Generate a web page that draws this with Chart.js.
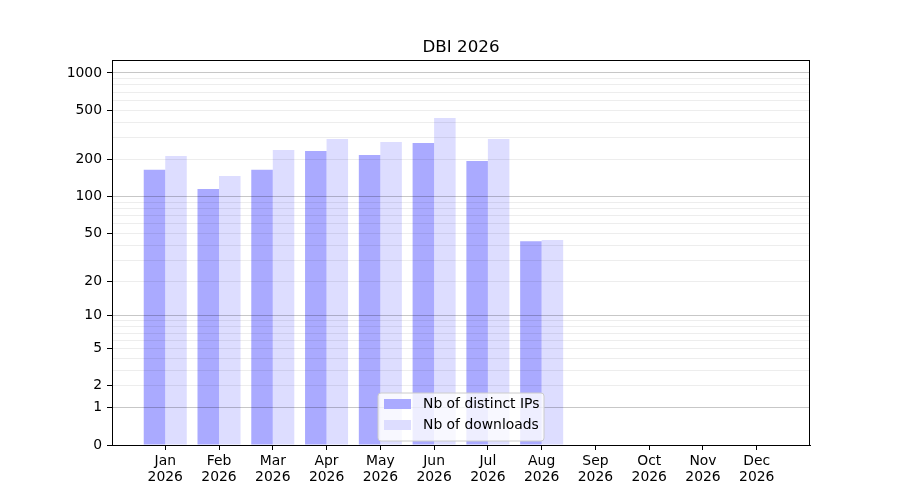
<!DOCTYPE html>
<html lang="en">
<head>
    <meta charset="UTF-8">
    <title>DBI 2026</title>
    <script src="https://cdn.jsdelivr.net/npm/chart.js"></script>
    <style>
        html, body { margin: 0; padding: 0; background: white; }
        .chart-box { width: 900px; height: 500px; position: relative; }
    </style>
</head>
<body>
    <div class="chart-box">
        <canvas id="dbiChart"></canvas>
    </div>

    <script>
        // Monthly stats
        const months = ['Jan', 'Feb', 'Mar', 'Apr', 'May', 'Jun', 'Jul', 'Aug', 'Sep', 'Oct', 'Nov', 'Dec'];
        const year = '2026';
        const distinctIps = [165, 115, 165, 234, 217, 271, 194, 43, 0, 0, 0, 0];
        const downloads = [213, 147, 238, 293, 277, 433, 293, 44, 0, 0, 0, 0];
        const yLabels = [0, 1, 2, 5, 10, 20, 50, 100, 200, 500, 1000];
        const yMajor = [1, 10, 100, 1000];
        const yMaxValue = 1272;

        // y axis is log10(1 + v)
        const tf = v => Math.log10(1 + v);
        const untf = t => Math.round(Math.pow(10, t) - 1);

        // every gridline value: 1..9, 10..90, 100..900, 1000
        const yGrid = [0];
        [1, 10, 100].forEach(d => { for (let k = 1; k < 10; k++) yGrid.push(k * d); });
        yGrid.push(1000);

        const toPoints = arr => arr.map((v, i) => ({ x: i, y: tf(v) }));

        Chart.defaults.font.family = "'DejaVu Sans', sans-serif";
        Chart.defaults.font.size = 13.9;
        Chart.defaults.color = '#000';

        // matplotlib-ish title, frame and legend drawn on the canvas
        const decorations = {
            id: 'decorations',
            afterDraw(chart) {
                const c = chart.ctx;
                const a = chart.chartArea;
                c.save();

                // frame
                c.strokeStyle = '#000';
                c.lineWidth = 1;
                c.strokeRect(Math.round(a.left) + 0.5, Math.round(a.top) + 0.5,
                             Math.round(a.right - a.left) - 1, Math.round(a.bottom - a.top));

                // title
                c.fillStyle = '#000';
                c.font = "16.7px 'DejaVu Sans', sans-serif";
                c.textAlign = 'center';
                c.textBaseline = 'alphabetic';
                c.fillText('DBI 2026', (a.left + a.right) / 2, 52);

                // legend
                const lx = 378, ly = 393, lw = 166, lh = 48, r = 3;
                c.beginPath();
                c.moveTo(lx + r, ly);
                c.arcTo(lx + lw, ly, lx + lw, ly + lh, r);
                c.arcTo(lx + lw, ly + lh, lx, ly + lh, r);
                c.arcTo(lx, ly + lh, lx, ly, r);
                c.arcTo(lx, ly, lx + lw, ly, r);
                c.closePath();
                c.fillStyle = 'rgba(255,255,255,0.8)';
                c.fill();
                c.strokeStyle = '#cccccc';
                c.stroke();

                const items = chart.data.datasets;
                c.font = "13.9px 'DejaVu Sans', sans-serif";
                c.textAlign = 'left';
                c.textBaseline = 'middle';
                items.forEach((ds, i) => {
                    const y = ly + 6 + i * 21;
                    c.fillStyle = ds.backgroundColor;
                    c.fillRect(lx + 6, y, 27, 10);
                    c.fillStyle = '#000';
                    c.fillText(ds.label, lx + 45, y + 5.5);
                });
                c.restore();
            }
        };

        new Chart(document.getElementById('dbiChart'), {
            type: 'bar',
            data: {
                datasets: [
                    {
                        label: 'Nb of distinct IPs',
                        data: toPoints(distinctIps),
                        backgroundColor: '#aaaaff',
                        categoryPercentage: 0.8,
                        barPercentage: 1.0
                    },
                    {
                        label: 'Nb of downloads',
                        data: toPoints(downloads),
                        backgroundColor: '#ddddff',
                        categoryPercentage: 0.8,
                        barPercentage: 1.0
                    }
                ]
            },
            options: {
                responsive: true,
                maintainAspectRatio: false,
                animation: false,
                layout: { padding: { top: 60, right: 90, bottom: 0, left: 0 } },
                plugins: {
                    legend: { display: false },
                    title: { display: false },
                    tooltip: { enabled: false }
                },
                scales: {
                    x: {
                        type: 'linear',
                        min: -0.99,
                        max: 11.99,
                        offset: false,
                        afterBuildTicks: s => { s.ticks = months.map((m, i) => ({ value: i })); },
                        afterFit: s => { s.height = 55; },
                        grid: {
                            offset: false,
                            drawOnChartArea: false,
                            tickLength: 5,
                            tickColor: '#000'
                        },
                        border: { color: '#000' },
                        ticks: {
                            autoSkip: false,
                            maxRotation: 0,
                            padding: 4,
                            font: { lineHeight: 1.1 },
                            callback: v => [months[v], year]
                        }
                    },
                    y: {
                        type: 'linear',
                        min: 0,
                        max: tf(yMaxValue),
                        afterBuildTicks: s => { s.ticks = yGrid.map(v => ({ value: tf(v) })); },
                        afterFit: s => { s.width = 112; },
                        grid: {
                            z: 1,
                            tickLength: 5,
                            color: ctx => {
                                const v = untf(ctx.tick.value);
                                if (v === 0) return 'rgba(0,0,0,0)';
                                return yMajor.includes(v) ? 'rgba(0,0,0,0.22)' : 'rgba(0,0,0,0.07)';
                            },
                            tickColor: ctx => yLabels.includes(untf(ctx.tick.value)) ? '#000' : 'rgba(0,0,0,0)'
                        },
                        border: { display: false },
                        ticks: {
                            autoSkip: false,
                            padding: 5,
                            callback: v => {
                                const raw = untf(v);
                                return yLabels.includes(raw) ? String(raw) : '';
                            }
                        }
                    }
                }
            },
            plugins: [decorations]
        });
    </script>
</body>
</html>
